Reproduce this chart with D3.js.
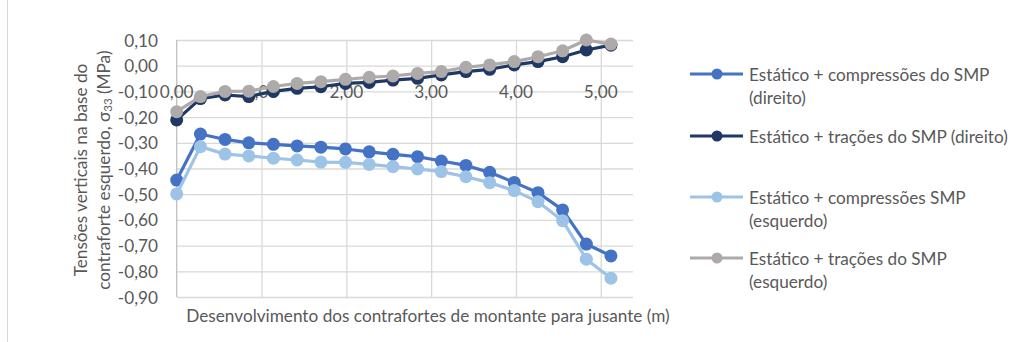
<!DOCTYPE html>
<html>
<head>
<meta charset="utf-8">
<script src="https://cdn.jsdelivr.net/npm/d3@7"></script>
<style>
  html, body { margin: 0; padding: 0; background: #fff; }
  svg { display: block; }
  text { font-family: Lato, "Open Sans", sans-serif; fill: #595959; }
</style>
</head>
<body>
<svg id="chart" width="1024" height="342"></svg>
<script>
// Position along the buttresses (m)
const positions = [0, 0.28, 0.57, 0.85, 1.14, 1.42, 1.70, 1.99, 2.27, 2.55,
                   2.84, 3.12, 3.41, 3.69, 3.98, 4.26, 4.55, 4.83, 5.12];

// Vertical stress sigma33 (MPa) per load combination
const compDireito = [-0.445, -0.266, -0.287, -0.300, -0.306, -0.312, -0.317, -0.324, -0.335, -0.345,
                     -0.354, -0.371, -0.388, -0.415, -0.454, -0.494, -0.561, -0.694, -0.740];
const tracDireito = [-0.211, -0.128, -0.114, -0.120, -0.100, -0.088, -0.082, -0.069, -0.065, -0.056,
                     -0.049, -0.036, -0.023, -0.014, 0.003, 0.016, 0.035, 0.061, 0.080];
const compEsquerdo = [-0.499, -0.315, -0.344, -0.351, -0.360, -0.367, -0.375, -0.376, -0.384, -0.393,
                      -0.402, -0.412, -0.432, -0.455, -0.486, -0.529, -0.603, -0.753, -0.827];
const tracEsquerdo = [-0.179, -0.120, -0.100, -0.099, -0.081, -0.069, -0.062, -0.053, -0.045, -0.040,
                      -0.030, -0.023, -0.006, 0.003, 0.016, 0.035, 0.058, 0.100, 0.084];

const seriesNames = [
  ["Estático + compressões do SMP", "(direito)"],
  ["Estático + trações do SMP (direito)"],
  ["Estático + compressões SMP", "(esquerdo)"],
  ["Estático + trações do SMP", "(esquerdo)"]
];
const seriesValues = [compDireito, tracDireito, compEsquerdo, tracEsquerdo];
const seriesColors = ["#4472C4", "#203864", "#9DC3E6", "#AEAAAA"];

const xTicks = [0, 1, 2, 3, 4, 5];
const yTicks = [0.10, 0.00, -0.10, -0.20, -0.30, -0.40, -0.50, -0.60, -0.70, -0.80, -0.90];

const xTitle = "Desenvolvimento dos contrafortes de montante para jusante (m)";
const yTitle1 = "Tensões verticais na base do";
const yTitle2 = "contraforte esquerdo, σ";
const yTitleSub = "33";
const yTitle3 = " (MPa)";

const svg = d3.select("#chart");
const fontSize = 17.2;

// Left edge of the chart frame
svg.append("line")
  .attr("x1", 7.5).attr("x2", 7.5).attr("y1", 0).attr("y2", 342)
  .attr("stroke", "#D9D9D9").attr("stroke-width", 1);

const x = d3.scaleLinear().domain([0, 5.38]).range([176.7, 633]);
const y = d3.scaleLinear().domain([-0.9, 0.1]).range([297, 40]);
const fmt = v => d3.format(".2f")(v).replace("−", "-").replace(".", ",");

// Horizontal gridlines
svg.append("g")
  .attr("transform", `translate(${x(0)},0)`)
  .call(d3.axisLeft(y).tickValues(yTicks).tickSize(-(x.range()[1] - x(0))).tickFormat(""))
  .call(g => g.select(".domain").remove())
  .call(g => g.selectAll("line").attr("stroke", "#D9D9D9").attr("stroke-width", 1.3));

// Vertical gridlines
svg.append("g")
  .attr("transform", `translate(0,${y(-0.9)})`)
  .call(d3.axisBottom(x).tickValues(xTicks.slice(1)).tickSize(-(y(-0.9) - y(0.1))).tickFormat(""))
  .call(g => g.select(".domain").remove())
  .call(g => g.selectAll("line").attr("stroke", "#D9D9D9").attr("stroke-width", 1.3));

// Vertical axis line
svg.append("line")
  .attr("x1", x(0)).attr("x2", x(0)).attr("y1", y(0.1)).attr("y2", y(-0.9))
  .attr("stroke", "#BFBFBF").attr("stroke-width", 1.3);

// Y tick labels
svg.append("g").selectAll("text").data(yTicks).join("text")
  .attr("x", 158).attr("y", d => y(d))
  .attr("text-anchor", "end").attr("dominant-baseline", "central")
  .style("font-size", fontSize + "px")
  .text(fmt);

// X tick labels (horizontal axis crosses at zero)
svg.append("g").selectAll("text").data(xTicks).join("text")
  .attr("x", d => x(d)).attr("y", y(0) + 25.5)
  .attr("text-anchor", "middle").attr("dominant-baseline", "central")
  .style("font-size", fontSize + "px")
  .text(fmt);

// Axis titles
svg.append("text")
  .attr("x", 428).attr("y", 315)
  .attr("text-anchor", "middle").attr("dominant-baseline", "central")
  .style("font-size", fontSize + "px")
  .text(xTitle);

const yt = svg.append("g").attr("transform", "translate(0,170) rotate(-90)");
yt.append("text")
  .attr("x", 0).attr("y", 80)
  .attr("text-anchor", "middle").attr("dominant-baseline", "central")
  .style("font-size", fontSize + "px")
  .text(yTitle1);
const t2 = yt.append("text")
  .attr("x", 0).attr("y", 103)
  .attr("text-anchor", "middle").attr("dominant-baseline", "central")
  .style("font-size", fontSize + "px");
t2.append("tspan").text(yTitle2);
t2.append("tspan").attr("dy", 4).style("font-size", "11.5px").text(yTitleSub);
t2.append("tspan").attr("dy", -4).text(yTitle3);

// Series lines and markers
const line = d3.line().x((d, i) => x(positions[i])).y(d => y(d));
seriesValues.forEach((vals, s) => {
  const g = svg.append("g");
  g.append("path").datum(vals)
    .attr("d", line).attr("fill", "none")
    .attr("stroke", seriesColors[s]).attr("stroke-width", 3.2)
    .attr("stroke-linejoin", "round");
  g.selectAll("circle").data(vals).join("circle")
    .attr("cx", (d, i) => x(positions[i])).attr("cy", d => y(d))
    .attr("r", 6.5).attr("fill", seriesColors[s]);
});

// Legend
const legendY = [74, 136, 197, 258];
const legend = svg.append("g");
seriesNames.forEach((lines, s) => {
  const cy = legendY[s];
  legend.append("line")
    .attr("x1", 690).attr("x2", 743).attr("y1", cy).attr("y2", cy)
    .attr("stroke", seriesColors[s]).attr("stroke-width", 3.2);
  legend.append("circle").attr("cx", 717).attr("cy", cy).attr("r", 5.5)
    .attr("fill", seriesColors[s]);
  lines.forEach((t, k) => {
    legend.append("text")
      .attr("x", 749).attr("y", cy + k * 23.5)
      .attr("dominant-baseline", "central")
      .style("font-size", fontSize + "px")
      .text(t);
  });
});
</script>
</body>
</html>
